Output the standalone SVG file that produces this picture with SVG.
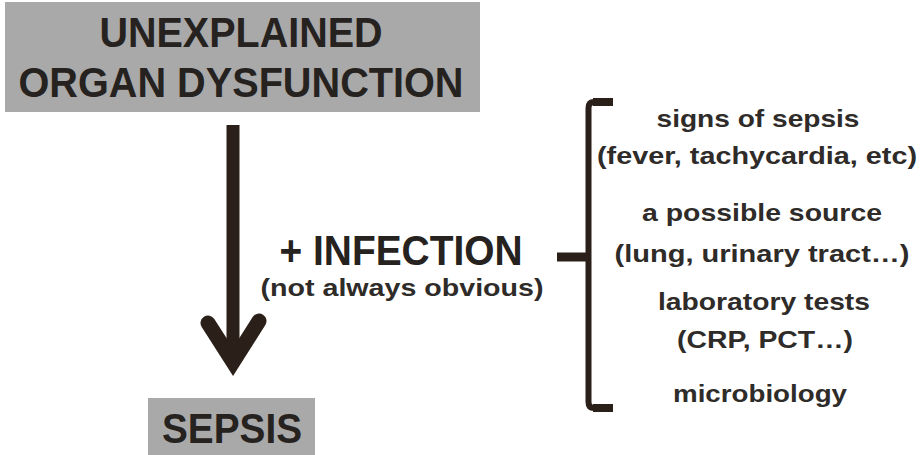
<svg xmlns="http://www.w3.org/2000/svg" width="922" height="455" viewBox="0 0 922 455">
<style>
.box{fill:#a9a9a9;}
.big{font-family:"Liberation Sans",Arial,sans-serif;font-weight:bold;fill:#262220;}
.sm{font-family:"Liberation Sans",Arial,sans-serif;font-weight:bold;fill:#2e2b29;font-size:24px;}
.ink{stroke:#2a2019;fill:none;}
</style>
<rect width="922" height="455" fill="#ffffff"/>
<g id="node-unexplained">
<rect class="box" x="5" y="2" width="475" height="110"/>
<text class="big" x="241" y="47" font-size="42" text-anchor="middle" textLength="283" lengthAdjust="spacingAndGlyphs">UNEXPLAINED</text>
<text class="big" x="241" y="97" font-size="42" text-anchor="middle" textLength="445" lengthAdjust="spacingAndGlyphs">ORGAN DYSFUNCTION</text>
</g>
<g id="node-sepsis">
<rect class="box" x="148" y="398" width="167" height="60"/>
<text class="big" x="232" y="443" font-size="42" text-anchor="middle" textLength="140" lengthAdjust="spacingAndGlyphs">SEPSIS</text>
</g>
<g id="node-infection">
<text class="big" x="401" y="265" font-size="42" text-anchor="middle" textLength="243" lengthAdjust="spacingAndGlyphs">+ INFECTION</text>
<text class="sm" x="402" y="296" font-size="25" text-anchor="middle" textLength="283" lengthAdjust="spacingAndGlyphs">(not always obvious)</text>
</g>
<g id="node-criteria">
<text class="sm" x="758" y="127" text-anchor="middle" textLength="203" lengthAdjust="spacingAndGlyphs">signs of sepsis</text>
<text class="sm" x="757" y="164" text-anchor="middle" textLength="320" lengthAdjust="spacingAndGlyphs">(fever,  tachycardia, etc)</text>
<text class="sm" x="762" y="221" text-anchor="middle" textLength="240" lengthAdjust="spacingAndGlyphs">a possible source</text>
<text class="sm" x="762" y="262" text-anchor="middle" textLength="295" lengthAdjust="spacingAndGlyphs">(lung, urinary tract…)</text>
<text class="sm" x="764" y="310" text-anchor="middle" textLength="212" lengthAdjust="spacingAndGlyphs">laboratory tests</text>
<text class="sm" x="765" y="348" text-anchor="middle" textLength="176" lengthAdjust="spacingAndGlyphs">(CRP, PCT…)</text>
<text class="sm" x="760" y="402" text-anchor="middle" textLength="174" lengthAdjust="spacingAndGlyphs">microbiology</text>
</g>
<g id="connectors">
<line class="ink" x1="233" y1="125" x2="233" y2="360" stroke-width="13"/>
<polyline class="ink" points="208,323 233,362 259,321" stroke-width="15" stroke-linecap="round" stroke-linejoin="miter"/>
<path class="ink" d="M613,102 L594,102 Q588.5,102 588.5,108 L588.5,402 Q588.5,408 594,408 L613,408" stroke-width="6"/>
<path class="ink" d="M593,102 L613,102 M593,408 L613,408" stroke-width="8"/>
<line class="ink" x1="557" y1="257" x2="589" y2="257" stroke-width="9"/>
</g>
</svg>
